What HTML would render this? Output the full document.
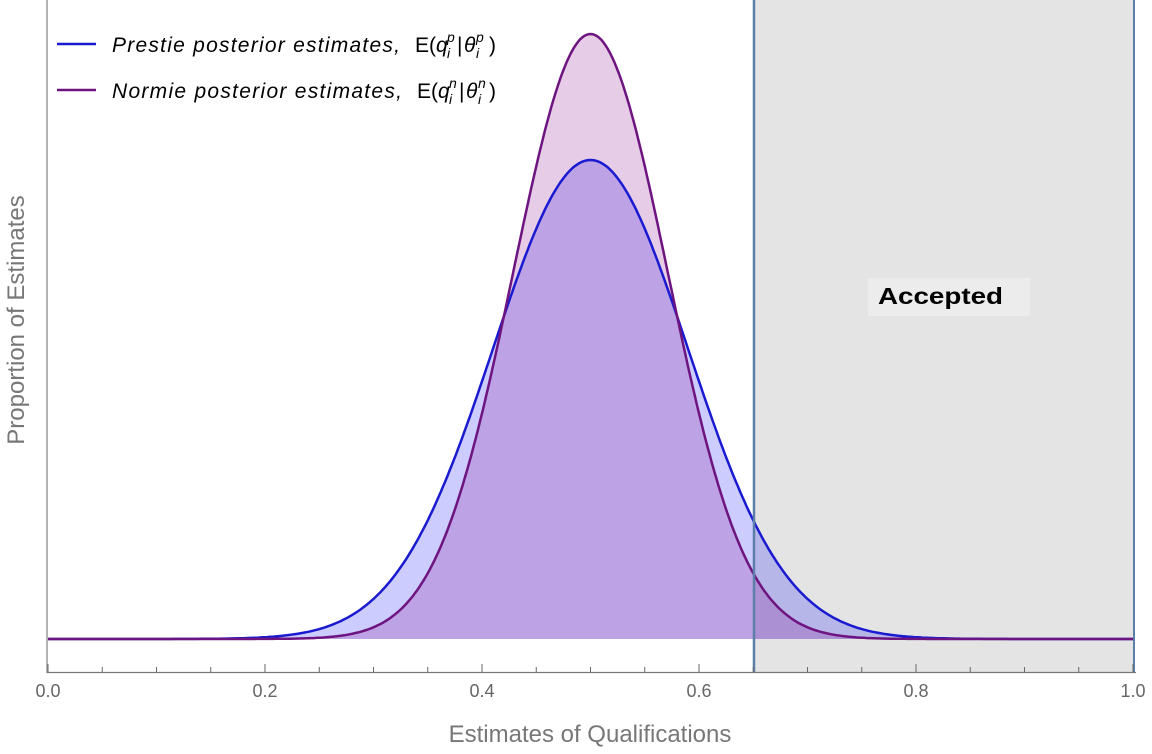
<!DOCTYPE html>
<html><head><meta charset="utf-8"><style>
html,body{margin:0;padding:0;background:#fff;}
svg{display:block;font-family:"Liberation Sans",sans-serif;}
</style></head><body>
<svg id="s" width="1152" height="754" xmlns="http://www.w3.org/2000/svg">
<rect x="754" y="0" width="381" height="672" fill="#e4e4e4"/>
<g id="fills"></g>
<g id="lines"></g>
<line x1="754" y1="0" x2="754" y2="672" stroke="#5b7fa8" stroke-width="2.5"/>
<line x1="1134" y1="0" x2="1134" y2="672" stroke="#5b7fa8" stroke-width="2"/>
<rect x="868" y="278" width="162" height="38" fill="#ececec"/>
<text x="878" y="304" font-size="23" font-weight="bold" textLength="125" lengthAdjust="spacingAndGlyphs" fill="#000">Accepted</text>
<line x1="47" y1="0" x2="47" y2="673" stroke="#999" stroke-width="1.5"/>
<line x1="47" y1="672.5" x2="1136" y2="672.5" stroke="#777" stroke-width="1.2"/>
<g id="ticks" stroke="#666" stroke-width="1"></g>
<g font-size="18" fill="#666" text-anchor="middle">
<text x="48" y="697">0.0</text><text x="265" y="697">0.2</text><text x="482" y="697">0.4</text>
<text x="699" y="697">0.6</text><text x="916" y="697">0.8</text><text x="1133" y="697">1.0</text>
</g>
<text x="590" y="742" font-size="24" fill="#777" text-anchor="middle">Estimates of Qualifications</text>
<text transform="translate(24,320) rotate(-90)" font-size="24" fill="#777" text-anchor="middle">Proportion of Estimates</text>
<line x1="57" y1="44" x2="96" y2="44" stroke="#1a1ad0" stroke-width="2.5"/>
<line x1="57" y1="90" x2="96" y2="90" stroke="#6e1480" stroke-width="2.5"/>
<g font-size="21" fill="#000">
<text x="112" y="52" font-style="italic" textLength="288" lengthAdjust="spacing">Prestie posterior estimates,</text>
<text x="415" y="52">E(<tspan font-style="italic">q</tspan></text>
<text x="447" y="42" font-size="14" font-style="italic">p</text>
<text x="447" y="58" font-size="14" font-style="italic">i</text>
<text x="457" y="52">|</text>
<text x="464" y="52" font-style="italic">θ</text>
<text x="476" y="42" font-size="14" font-style="italic">p</text>
<text x="476" y="58" font-size="14" font-style="italic">i</text>
<text x="489" y="52">)</text>
<text x="112" y="98" font-style="italic" textLength="290" lengthAdjust="spacing">Normie posterior estimates,</text>
<text x="417" y="98">E(<tspan font-style="italic">q</tspan></text>
<text x="449" y="88" font-size="14" font-style="italic">n</text>
<text x="449" y="104" font-size="14" font-style="italic">i</text>
<text x="459" y="98">|</text>
<text x="466" y="98" font-style="italic">θ</text>
<text x="478" y="88" font-size="14" font-style="italic">n</text>
<text x="478" y="104" font-size="14" font-style="italic">i</text>
<text x="489" y="98">)</text>
</g>
</svg>
<script>
(function(){
var NS="http://www.w3.org/2000/svg";
var x0=48,sc=1085,base=639;
function X(v){return x0+v*sc;}
function curve(h,s){var p=[];for(var i=0;i<=500;i++){var v=i/500;var y=base-h*Math.exp(-Math.pow(v-0.5,2)/(2*s*s));p.push(X(v).toFixed(1)+","+y.toFixed(1));}return p;}
var P=curve(479,0.0898),N=curve(605,0.0712);
function add(g,d,attrs){var e=document.createElementNS(NS,"path");e.setAttribute("d",d);for(var k in attrs)e.setAttribute(k,attrs[k]);document.getElementById(g).appendChild(e);}
var fp="M"+X(0)+","+base+" L"+P.join(" L")+" L"+X(1)+","+base+"Z";
var fn="M"+X(0)+","+base+" L"+N.join(" L")+" L"+X(1)+","+base+"Z";
add("fills",fp,{fill:"rgb(0,0,255)","fill-opacity":"0.2"});
add("fills",fn,{fill:"rgb(128,0,128)","fill-opacity":"0.2"});
add("lines","M"+P.join(" L"),{fill:"none",stroke:"#1a1ad0","stroke-width":"2.5"});
add("lines","M"+N.join(" L"),{fill:"none",stroke:"#6e1480","stroke-width":"2.5"});
var t=document.getElementById("ticks");
for(var i=0;i<=20;i++){var x=X(i*0.05);var l=document.createElementNS(NS,"line");l.setAttribute("x1",x);l.setAttribute("x2",x);l.setAttribute("y1",672);l.setAttribute("y2",i%4==0?664:667);t.appendChild(l);}
})();
</script>
</body></html>
